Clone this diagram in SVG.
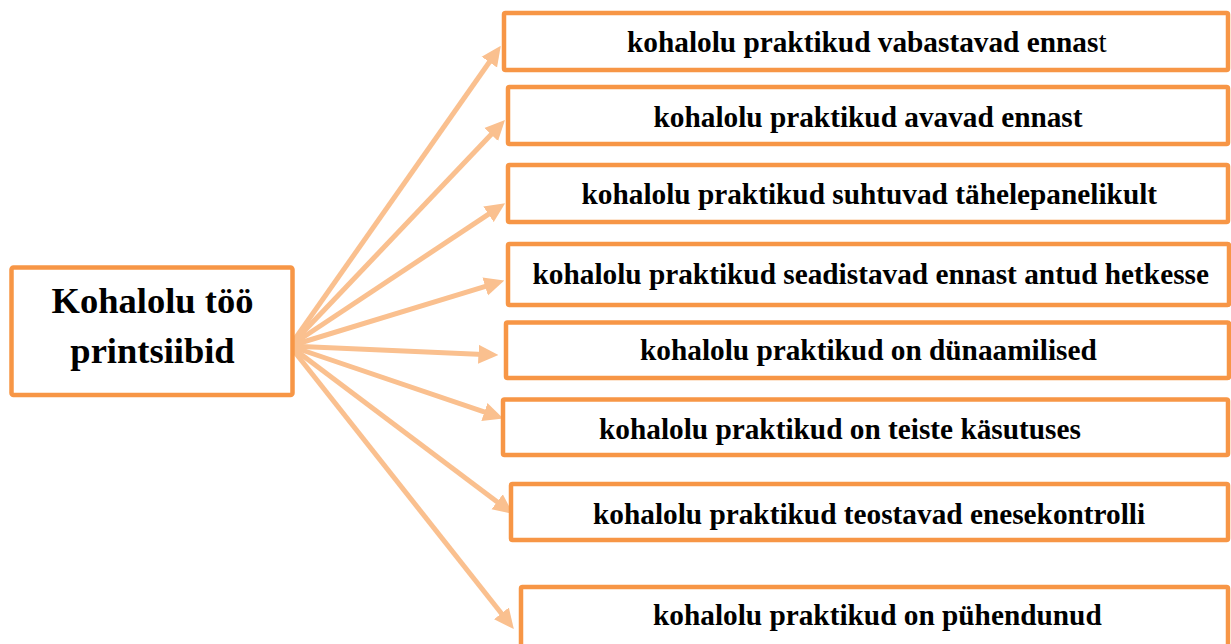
<svg xmlns="http://www.w3.org/2000/svg" width="1231" height="644" viewBox="0 0 1231 644">
<defs>
<style>
.box{fill:#fff;stroke:#F79646;stroke-width:4.5}
.t{font-family:"Liberation Serif","Times New Roman",serif;font-weight:bold;font-size:29.3px;fill:#000}
.big{font-family:"Liberation Serif","Times New Roman",serif;font-weight:bold;font-size:36.5px;fill:#000;text-anchor:middle}
.c{stroke:#FAC08F;stroke-width:5;fill:none;marker-end:url(#ah)}
</style>
<marker id="ah" markerUnits="userSpaceOnUse" markerWidth="20" markerHeight="20" refX="9" refY="8" orient="auto" viewBox="0 0 17 16">
<path d="M0,0 L17,8 L0,16 z" fill="#FAC08F"/>
</marker>
</defs>
<rect width="1231" height="644" fill="#fff"/>
<g id="connectors">
<line class="c" x1="290" y1="346" x2="495.4" y2="53.5"/>
<line class="c" x1="290" y1="346" x2="498.5" y2="126.8"/>
<line class="c" x1="290" y1="346" x2="497.3" y2="208.4"/>
<line class="c" x1="290" y1="346" x2="495.3" y2="283.3"/>
<line class="c" x1="290" y1="346" x2="489" y2="354.7"/>
<line class="c" x1="290" y1="346" x2="494.4" y2="415.4"/>
<line class="c" x1="290" y1="346" x2="505.6" y2="508.2"/>
<line class="c" x1="290" y1="346" x2="508" y2="621.7"/>
</g>
<g id="root">
<rect class="box" x="11.5" y="267.5" width="281" height="127.5" rx="2" stroke-width="5"/>
<text class="big" x="152.5" y="313">Kohalolu töö</text>
<text class="big" x="152.5" y="363">printsiibid</text>
</g>
<g id="n1">
<rect class="box" x="504" y="13" width="724" height="57" rx="1.5"/>
<text class="t" x="627" y="52">kohalolu praktikud vabastavad ennas<tspan font-weight="normal">t</tspan></text>
</g>
<g id="n2">
<rect class="box" x="508" y="87" width="720" height="57" rx="1.5"/>
<text class="t" x="653.5" y="126.5">kohalolu praktikud avavad ennast</text>
</g>
<g id="n3">
<rect class="box" x="508" y="165" width="720" height="57" rx="1.5"/>
<text class="t" x="581.5" y="203.5">kohalolu praktikud suhtuvad tähelepanelikult</text>
</g>
<g id="n4">
<rect class="box" x="508" y="244" width="721" height="61" rx="1.5"/>
<text class="t" x="532.5" y="283.5">kohalolu praktikud seadistavad ennast antud hetkesse</text>
</g>
<g id="n5">
<rect class="box" x="506" y="322.5" width="723" height="55.5" rx="1.5"/>
<text class="t" x="640" y="360">kohalolu praktikud on dünaamilised</text>
</g>
<g id="n6">
<rect class="box" x="503" y="399.5" width="725" height="55.5" rx="1.5"/>
<text class="t" x="599" y="438.5">kohalolu praktikud on teiste käsutuses</text>
</g>
<g id="n7">
<rect class="box" x="511" y="484" width="717" height="56" rx="1.5"/>
<text class="t" x="593" y="523.5">kohalolu praktikud teostavad enesekontrolli</text>
</g>
<g id="n8">
<rect class="box" x="521" y="587" width="707" height="70" rx="1.5"/>
<text class="t" x="653" y="625">kohalolu praktikud on pühendunud</text>
</g>
</svg>
